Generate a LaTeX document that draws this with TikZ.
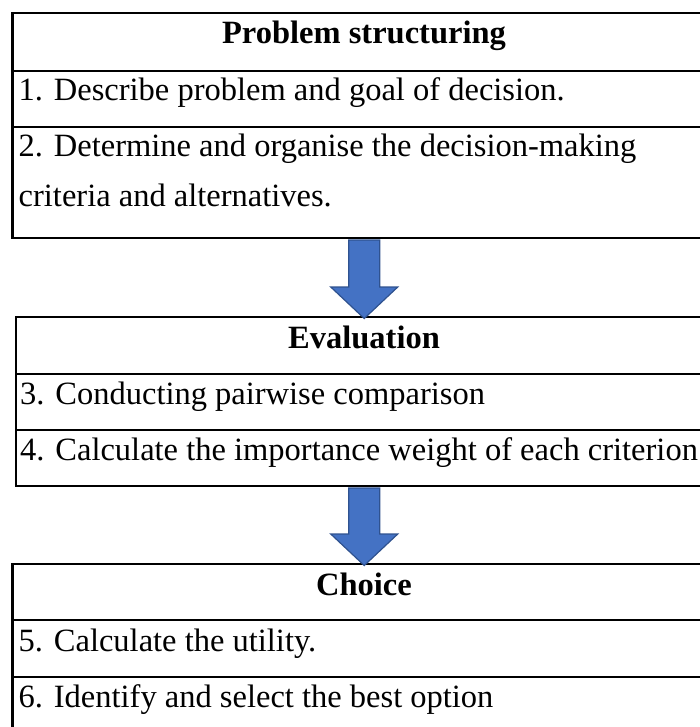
\documentclass[tikz,border=0pt]{standalone}
\usepackage{fontspec}
\setmainfont{Liberation Serif}
\usetikzlibrary{calc}
\definecolor{arrowfill}{HTML}{4472C4}
\definecolor{arrowline}{HTML}{2F528F}
\begin{document}
\begin{tikzpicture}[x=1pt,y=-1pt,
  box/.style={draw=black, line width=2.5pt, anchor=north west, inner sep=0pt, outer sep=0pt},
  sepline/.style={draw=black, line width=2.5pt},
  rowtxt/.style={anchor=base west, inner sep=0pt, font=\fontsize{32.5}{38}\selectfont},
  headtxt/.style={anchor=base, inner sep=0pt, font=\fontsize{32.5}{38}\selectfont\bfseries},
  flowarrow/.style={fill=arrowfill, draw=arrowline, line width=1.2pt, line join=miter}]
\useasboundingbox (0,0) rectangle (700,727);
\clip (0,0) rectangle (700,727);
% boxes
\node[box, minimum width=703.5pt, minimum height=225pt] (box1) at (12.5,13) {};
\node[box, minimum width=700pt, minimum height=169pt] (box2) at (16,317) {};
\node[box, minimum width=703.5pt, minimum height=220pt] (box3) at (12.5,564) {};
% arrows
\draw[flowarrow]
  ($(box1.south)+(-15.5,2)$) -- ($(box1.south)+(15.5,2)$) -- ($(box1.south)+(15.5,49)$)
  -- ($(box1.south)+(33.5,49)$) -- ($(box1.south |- box2.north)+(0,1.5)$)
  -- ($(box1.south)+(-33.5,49)$) -- ($(box1.south)+(-15.5,49)$) -- cycle;
\draw[flowarrow]
  ($(box1.south |- box2.south)+(-15.5,2)$) -- ($(box1.south |- box2.south)+(15.5,2)$) -- ($(box1.south |- box2.south)+(15.5,48)$)
  -- ($(box1.south |- box2.south)+(33.5,48)$) -- ($(box1.south |- box3.north)+(0,1.5)$)
  -- ($(box1.south |- box2.south)+(-33.5,48)$) -- ($(box1.south |- box2.south)+(-15.5,48)$) -- cycle;
% redraw box borders over arrows
\draw[sepline] (box1.south west) -- (box1.south east);
\draw[sepline] (box2.south west) -- (box2.south east);
% separators
\draw[sepline] (box1.west |- 0,71) -- (box1.east |- 0,71);
\draw[sepline] (box1.west |- 0,127) -- (box1.east |- 0,127);
\draw[sepline] (box2.west |- 0,374) -- (box2.east |- 0,374);
\draw[sepline] (box2.west |- 0,430) -- (box2.east |- 0,430);
\draw[sepline] (box3.west |- 0,620) -- (box3.east |- 0,620);
\draw[sepline] (box3.west |- 0,677) -- (box3.east |- 0,677);
% texts
\node[headtxt] (h1) at (364,44) {Problem structuring};
\node[rowtxt] (r1) at (18.5,101) {1. Describe problem and goal of decision.};
\node[rowtxt] (r2a) at (18.5,157) {2. Determine and organise the decision-making};
\node[rowtxt] (r2b) at (18.5,207) {criteria and alternatives.};
\node[headtxt] (h2) at (364,348) {Evaluation};
\node[rowtxt] (r3) at (20,404) {3. Conducting pairwise comparison};
\node[rowtxt] (r4) at (20,460) {4. Calculate the importance weight of each criterion};
\node[headtxt] (h3) at (364,595) {Choice};
\node[rowtxt] (r5) at (18.5,651) {5. Calculate the utility.};
\node[rowtxt] (r6) at (18.5,707) {6. Identify and select the best option};
\end{tikzpicture}
\end{document}
